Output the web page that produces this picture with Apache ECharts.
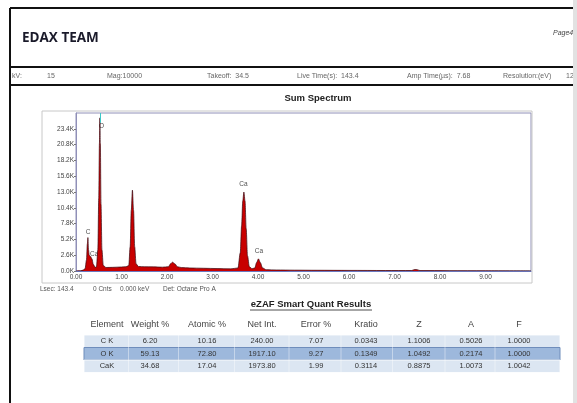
<!DOCTYPE html>
<html>
<head>
<meta charset="utf-8">
<script src="https://cdn.jsdelivr.net/npm/echarts@6/dist/echarts.min.js"></script>
<style>
html,body{margin:0;padding:0;background:#fff}
#main{width:577px;height:403px}
</style>
</head>
<body>
<div id="main"></div>
<script>
// spectrum (keV / counts)
var energy = [0.00,0.10,0.16,0.20,0.23,0.25,0.262,0.275,0.29,0.32,0.35,0.38,0.42,0.45,0.48,0.50,0.515,0.525,0.535,0.55,0.57,0.60,0.66,0.80,1.00,1.10,1.16,1.19,1.215,1.24,1.265,1.29,1.32,1.37,1.50,1.70,1.90,2.03,2.08,2.12,2.17,2.23,2.32,2.50,2.80,3.10,3.40,3.56,3.61,3.64,3.665,3.69,3.715,3.74,3.77,3.81,3.87,3.93,3.97,4.01,4.05,4.10,4.18,4.40,4.80,5.30,6.00,6.80,7.38,7.44,7.50,7.56,8.20,9.00,10.00];
var counts = [0,40,150,400,1800,4500,5500,3500,2600,2400,2000,1100,600,700,3500,12000,21000,25200,21000,11000,3500,900,580,600,660,700,900,4000,10000,13300,10000,4000,1200,750,700,680,630,700,1200,1450,1200,700,560,500,450,400,350,500,3000,7500,11500,13000,11500,7000,2500,700,380,500,1400,2000,1400,500,220,170,140,120,100,80,80,240,220,70,50,40,30];

var peakNames = ['C','Ca','O','Ca','Ca'];
var peakX = [0.265,0.40,0.56,3.68,4.02];
var peakY = [6400,2800,23800,14300,3300];
var cursorKeV = 0.525;

// header + footer text
var infoItems = ['kV:','15','Mag:10000','Takeoff:  34.5','Live Time(s):  143.4','Amp Time(\u00b5s):  7.68','Resolution:(eV)','128'];
var statusItems = ['Lsec: 143.4','0 Cnts','0.000 keV','Det: Octane Pro A'];

// quant table
var tableHeader = ['Element','Weight %','Atomic %','Net Int.','Error %','Kratio','Z','A','F'];
var elements  = ['C K','O K','CaK'];
var weightPct = ['6.20','59.13','34.68'];
var atomicPct = ['10.16','72.80','17.04'];
var netInt    = ['240.00','1917.10','1973.80'];
var errorPct  = ['7.07','9.27','1.99'];
var kratio    = ['0.0343','0.1349','0.3114'];
var zFactor   = ['1.1006','1.0492','0.8875'];
var aFactor   = ['0.5026','0.2174','1.0073'];
var fFactor   = ['1.0000','1.0000','1.0042'];

var FONT = 'Liberation Sans, Arial, sans-serif';

function txt(x, y, s, size, opts) {
    opts = opts || {};
    return {
        type: 'text', x: x, y: y, z: 10,
        style: {
            text: s,
            fill: opts.color || '#555',
            font: (opts.style || '') + ' ' + (opts.weight || 'normal') + ' ' + size + 'px ' + (opts.family || FONT),
            align: opts.align || 'left', textAlign: opts.align || 'left',
            verticalAlign: 'middle', textVerticalAlign: 'middle'
        }
    };
}
function hline(x1, x2, y, color, w) {
    return {type: 'line', z: 5, shape: {x1: x1, y1: y, x2: x2, y2: y}, style: {stroke: color, lineWidth: w}};
}

var g = [];
// page frame
g.push(hline(10, 577, 8, '#111', 2));
g.push({type: 'line', z: 5, shape: {x1: 10, y1: 8, x2: 10, y2: 403}, style: {stroke: '#111', lineWidth: 2}});
g.push(hline(10, 577, 67, '#111', 2));
g.push(hline(10, 577, 85, '#111', 2));
g.push(txt(22, 38, 'EDAX TEAM', 13.5, {weight: 'bold', color: '#1a1a2a', family: 'Open Sans, sans-serif'}));
g.push(txt(553, 33, 'Page4', 7, {style: 'italic', color: '#444'}));

var infoPos = [12, 47, 107, 207, 297, 407, 503, 566];
infoItems.forEach(function (s, i) { g.push(txt(infoPos[i], 76, s, 7, {color: '#666'})); });

g.push(txt(318, 98, 'Sum Spectrum', 9.5, {weight: 'bold', color: '#222', align: 'center'}));
// chart frame
g.push({type: 'rect', z: 0, shape: {x: 42, y: 111, width: 490, height: 172}, style: {fill: 'none', stroke: '#c8c8c8', lineWidth: 1}});

var statusPos = [40, 93, 120, 163];
statusItems.forEach(function (s, i) { g.push(txt(statusPos[i], 289, s, 6.5, {color: '#555'})); });

g.push(txt(311, 304, 'eZAF Smart Quant Results', 9.5, {weight: 'bold', color: '#222', align: 'center'}));
g.push(hline(250, 372, 310, '#222', 0.8));

// table
var cols = [107, 150, 207, 262, 316, 366, 419, 471, 519];
var rows = [elements, weightPct, atomicPct, netInt, errorPct, kratio, zFactor, aFactor, fFactor];
tableHeader.forEach(function (h, i) { g.push(txt(cols[i], 325, h, 9, {color: '#444', align: 'center'})); });
var rowY = [335, 347.5, 360];
var rowH = 12.5;
elements.forEach(function (e, r) {
    var mid = r === 1;
    g.push({type: 'rect', z: 2, shape: {x: 84, y: rowY[r], width: 476, height: rowH},
        style: {fill: mid ? '#9db8dc' : '#dce6f2', stroke: mid ? '#6f8dbb' : '#ffffff', lineWidth: mid ? 1 : 0.8}});
    rows.forEach(function (col, c) {
        g.push(txt(cols[c], rowY[r] + rowH / 2, col[r], 7.5, {color: '#333', align: 'center'}));
    });
});
for (var k = 1; k < cols.length; k++) {
    var xb = (cols[k - 1] + cols[k]) / 2;
    g.push({type: 'line', z: 3, shape: {x1: xb, y1: 335, x2: xb, y2: 372.5}, style: {stroke: '#ffffff', lineWidth: 0.6, opacity: 0.7}});
}
// right page edge
g.push({type: 'rect', z: 20, shape: {x: 573, y: 0, width: 4, height: 403}, style: {fill: '#e2e2e2'}});

var spectrum = energy.map(function (e, i) { return [e, counts[i]]; });
var peaks = peakNames.map(function (n, i) { return {name: n, value: [peakX[i], peakY[i]]}; });

var myChart = echarts.init(document.getElementById('main'));
var option = {
    backgroundColor: '#fff',
    animation: false,
    grid: {left: 76, top: 113, width: 455, height: 158, show: true, borderColor: '#9090b8', borderWidth: 1, backgroundColor: '#fff'},
    xAxis: {
        type: 'value', min: 0, max: 10, interval: 1,
        axisLine: {lineStyle: {color: '#6a78c0', width: 1}},
        axisTick: {show: false},
        splitLine: {show: false},
        axisLabel: {fontSize: 6.5, color: '#444', margin: 3, showMaxLabel: false, fontFamily: FONT,
            formatter: function (v) { return v.toFixed(2); }}
    },
    yAxis: {
        type: 'value', min: 0, max: 26000, interval: 2600,
        axisLine: {show: true, lineStyle: {color: '#9090b8'}},
        axisTick: {show: true, length: 2, lineStyle: {color: '#777'}},
        splitLine: {show: false},
        axisLabel: {fontSize: 6.5, color: '#444', margin: 2, showMaxLabel: false, fontFamily: FONT,
            formatter: function (v) { return (v / 1000).toFixed(1) + 'K'; }}
    },
    series: [{
        type: 'line',
        data: spectrum,
        smooth: 0.3,
        smoothMonotone: 'x',
        symbol: 'none',
        lineStyle: {color: '#3a0a12', width: 0.7},
        areaStyle: {color: '#c80000', opacity: 1},
        markLine: {
            silent: true, symbol: 'none', label: {show: false},
            lineStyle: {color: '#3cc8c8', width: 1, type: 'solid'},
            data: [[{coord: [cursorKeV, 26000]}, {coord: [cursorKeV, 24400]}]]
        }
    }, {
        type: 'scatter',
        data: peaks,
        symbolSize: 1,
        itemStyle: {color: 'rgba(0,0,0,0)'},
        label: {show: true, position: 'inside', formatter: '{b}', fontSize: 6.5, color: '#222', fontFamily: FONT}
    }],
    graphic: {elements: g}
};
myChart.setOption(option);
</script>
</body>
</html>
